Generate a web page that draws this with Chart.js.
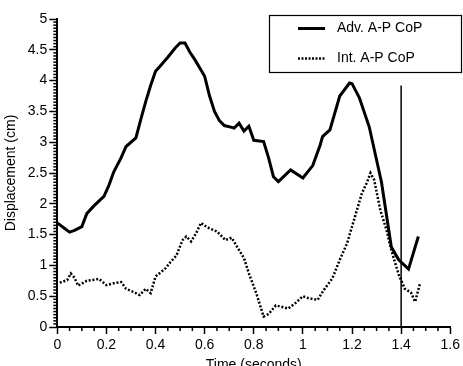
<!DOCTYPE html>
<html>
<head>
<meta charset="utf-8">
<script src="https://cdn.jsdelivr.net/npm/chart.js@4/dist/chart.umd.min.js"></script>
<style>
html,body{margin:0;padding:0;background:#fff;}
#wrap{width:463px;height:366px;position:relative;}
</style>
</head>
<body>
<div id="wrap"><canvas id="c" width="463" height="366"></canvas></div>
<script>
// Data
const advTime = [0.00,0.03,0.05,0.07,0.10,0.12,0.15,0.19,0.21,0.23,0.26,0.28,0.32,0.34,0.36,0.38,0.40,0.42,0.45,0.48,0.50,0.52,0.54,0.56,0.60,0.62,0.64,0.66,0.68,0.71,0.72,0.74,0.76,0.78,0.80,0.84,0.86,0.88,0.90,0.95,1.00,1.04,1.07,1.08,1.11,1.15,1.19,1.20,1.23,1.27,1.32,1.36,1.39,1.43,1.47];
const advDisp = [1.69,1.60,1.54,1.57,1.63,1.84,1.97,2.12,2.30,2.52,2.75,2.93,3.07,3.37,3.66,3.92,4.15,4.24,4.38,4.53,4.61,4.61,4.46,4.34,4.07,3.75,3.50,3.35,3.27,3.24,3.23,3.31,3.18,3.26,3.03,3.01,2.75,2.44,2.36,2.55,2.42,2.62,2.95,3.09,3.20,3.75,3.96,3.95,3.72,3.25,2.35,1.30,1.09,0.94,1.47];
const intTime = [0.01,0.04,0.055,0.07,0.085,0.12,0.17,0.20,0.23,0.26,0.28,0.31,0.335,0.36,0.38,0.40,0.44,0.46,0.485,0.51,0.525,0.545,0.565,0.585,0.61,0.65,0.685,0.71,0.74,0.76,0.78,0.81,0.84,0.86,0.89,0.94,0.97,1.00,1.02,1.06,1.085,1.12,1.15,1.18,1.20,1.22,1.24,1.26,1.275,1.29,1.315,1.34,1.36,1.39,1.415,1.44,1.457,1.477];
const intDisp = [0.72,0.76,0.87,0.80,0.67,0.75,0.78,0.68,0.71,0.73,0.62,0.57,0.52,0.62,0.55,0.82,0.95,1.05,1.16,1.41,1.47,1.39,1.52,1.69,1.62,1.55,1.41,1.45,1.25,1.12,0.87,0.55,0.17,0.21,0.35,0.30,0.39,0.50,0.47,0.44,0.60,0.79,1.09,1.36,1.63,1.90,2.17,2.34,2.50,2.39,1.90,1.58,1.25,0.85,0.62,0.56,0.41,0.71];
const markerTime = [1.4,1.4];
const markerDisp = [0,3.92];
const seriesNames = ["Adv. A-P CoP","Int. A-P CoP"];
const xTicks = [0,0.2,0.4,0.6,0.8,1,1.2,1.4,1.6];
const yTicks = [0,0.5,1,1.5,2,2.5,3,3.5,4,4.5,5];
const xTitle = "Time (seconds)";
const yTitle = "Displacement (cm)";

const FONT = '"Liberation Sans", Arial, sans-serif';
const toPts = (xs, ys) => xs.map((x,i)=>({x:x,y:ys[i]}));

const minorTicks = {
  id:'minorTicks',
  afterDraw(chart){
    const ctx = chart.ctx;
    const xs = chart.scales.x, ys = chart.scales.y;
    ctx.save();
    ctx.strokeStyle = '#000';
    ctx.lineWidth = 1.5;
    for (let i=0;i<=32;i++){
      const v = i*0.05;
      if (i%4===0) continue;
      const px = xs.getPixelForValue(v);
      ctx.beginPath(); ctx.moveTo(px, ys.bottom); ctx.lineTo(px, ys.bottom+4); ctx.stroke();
    }
    for (let i=0;i<=100;i++){
      const v = i*0.05;
      if (i%10===0) continue;
      const py = ys.getPixelForValue(v);
      ctx.beginPath(); ctx.moveTo(xs.left, py); ctx.lineTo(xs.left-4, py); ctx.stroke();
    }
    // legend box
    const L=269.5, T=15.5, W=192, H=57;
    ctx.lineWidth = 1.2;
    ctx.strokeRect(L,T,W,H);
    ctx.lineWidth = 3;
    ctx.setLineDash([]);
    ctx.beginPath(); ctx.moveTo(298,28.5); ctx.lineTo(325,28.5); ctx.stroke();
    ctx.lineWidth = 2.5;
    ctx.setLineDash([2,1.5]);
    ctx.beginPath(); ctx.moveTo(298,58.5); ctx.lineTo(325,58.5); ctx.stroke();
    ctx.setLineDash([]);
    ctx.fillStyle = '#000';
    ctx.font = '14px ' + FONT;
    ctx.textBaseline = 'middle';
    ctx.textAlign = 'left';
    ctx.fillText(seriesNames[0], 337, 28);
    ctx.fillText(seriesNames[1], 337, 58);
    ctx.restore();
  }
};

new Chart(document.getElementById('c'), {
  type:'line',
  data:{
    datasets:[
      {label:seriesNames[0], data:toPts(advTime,advDisp), borderColor:'#000', borderWidth:3, pointRadius:0, tension:0, fill:false},
      {label:seriesNames[1], data:toPts(intTime,intDisp), borderColor:'#000', borderWidth:2.5, borderDash:[2,1.8], pointRadius:0, tension:0, fill:false},
      {label:'marker', data:toPts(markerTime,markerDisp), borderColor:'#000', borderWidth:1.5, pointRadius:0, fill:false}
    ]
  },
  options:{
    responsive:false,
    animation:false,
    layout:{padding:{left:0,top:19,right:11.3,bottom:0}},
    plugins:{legend:{display:false}, tooltip:{enabled:false}},
    scales:{
      x:{
        type:'linear', min:0, max:1.6,
        afterBuildTicks:(s)=>{ s.ticks = xTicks.map(v=>({value:v})); },
        afterFit:(s)=>{ s.height = 39; },
        ticks:{color:'#000', padding:3, font:{size:14, family:FONT}, maxRotation:0, autoSkip:false,
          callback:(v)=>String(Math.round(v*10)/10)},
        grid:{drawOnChartArea:false, tickLength:7, tickColor:'#000', tickWidth:1.5},
        border:{display:true, color:'#000', width:2},
        title:{display:true, text:xTitle, color:'#000', font:{size:14, family:FONT}, padding:{top:0,bottom:-8}}
      },
      y:{
        type:'linear', min:0, max:5,
        afterBuildTicks:(s)=>{ s.ticks = yTicks.map(v=>({value:v})); },
        afterFit:(s)=>{ s.width = 57.3; },
        ticks:{color:'#000', padding:2, font:{size:14, family:FONT}, autoSkip:false,
          callback:(v)=>String(v)},
        grid:{drawOnChartArea:false, tickLength:8, tickColor:'#000', tickWidth:1.5},
        border:{display:true, color:'#000', width:2},
        title:{display:true, text:yTitle, color:'#000', font:{size:14, family:FONT}, padding:{top:3,bottom:0}}
      }
    }
  },
  plugins:[minorTicks]
});
</script>
</body>
</html>
